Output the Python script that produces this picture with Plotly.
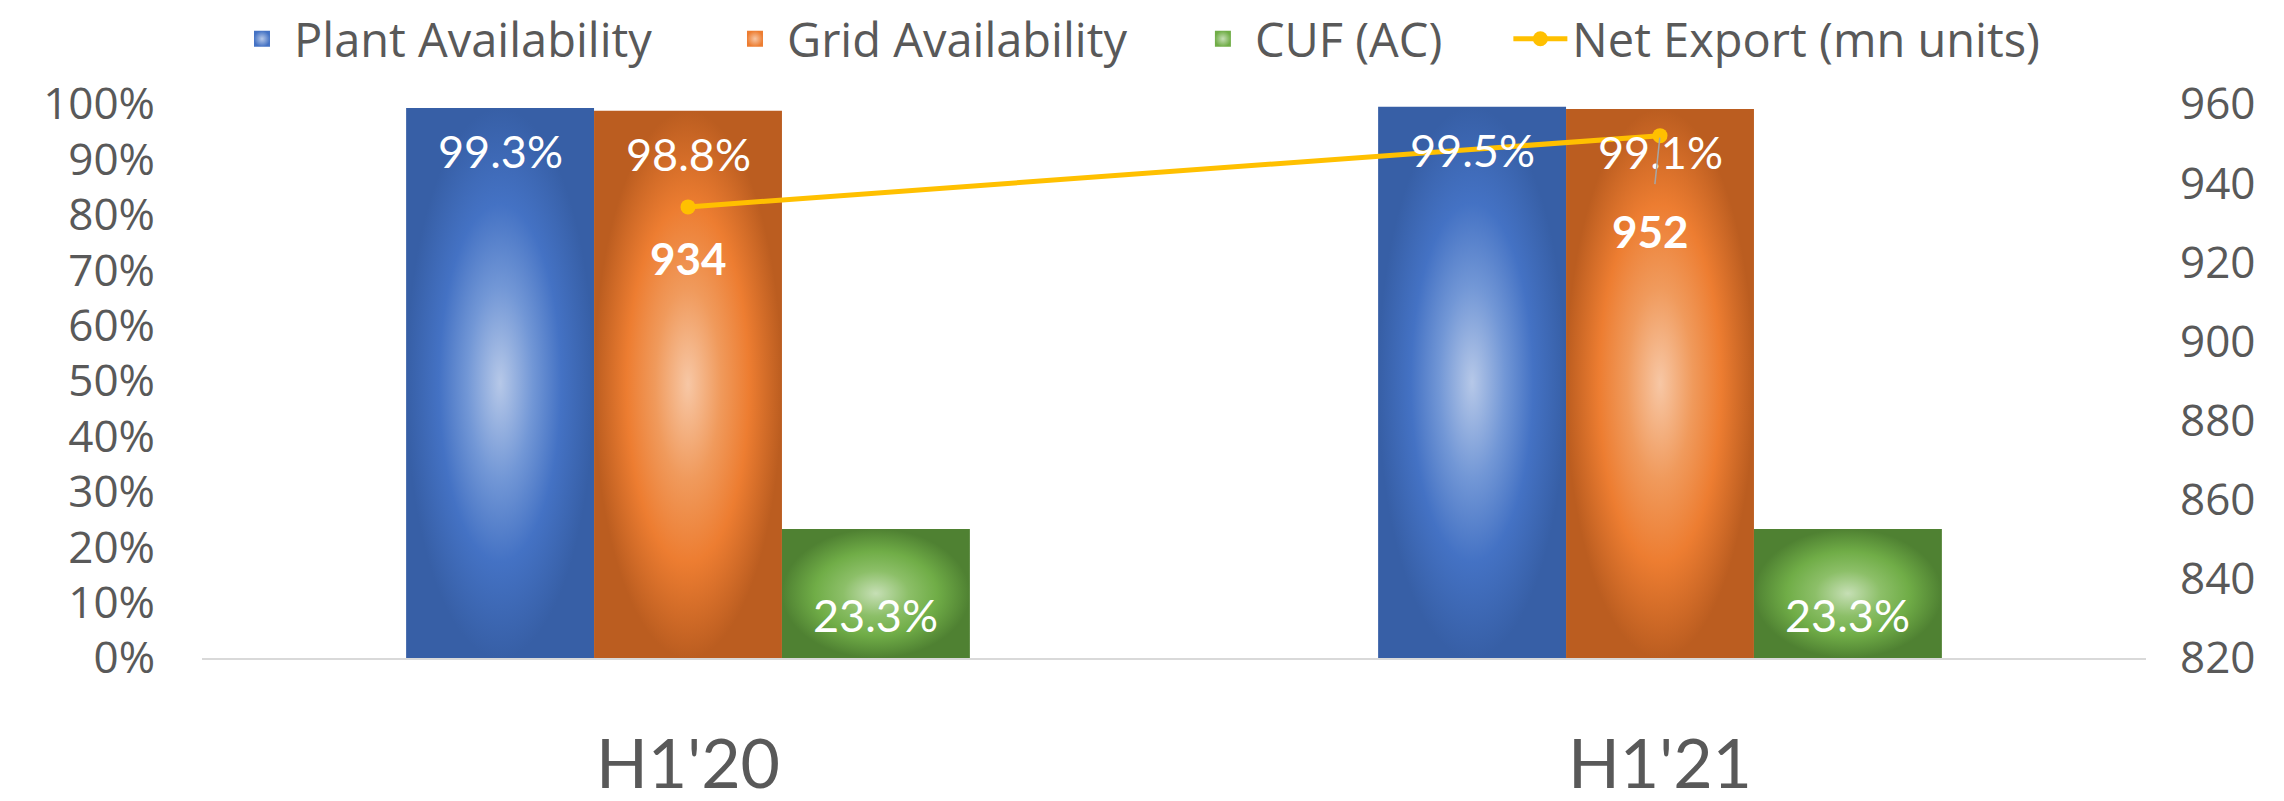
import plotly.graph_objects as go

# ---- data -------------------------------------------------------------
categories = ["H1'20", "H1'21"]
plant_availability = [0.993, 0.995]
grid_availability = [0.988, 0.991]
cuf_ac = [0.233, 0.233]
net_export = [934, 952]  # mn units

# ---- styling ----------------------------------------------------------
GREY = "#595959"
TICK_FONT = dict(family="Open Sans", size=44, color=GREY)
LEGEND_FONT = dict(family="Open Sans", size=47, color=GREY)
LABEL_FONT = dict(family="Lato", size=45, color="white")

# (name, values, radial colorscale centre->edge, label placement, legend id)
bar_series = [
    ("Plant Availability", plant_availability,
     [[0, "#b6c8e8"], [0.35, "#7297d6"], [0.65, "#4472c4"], [1, "#375fa6"]],
     "top", "legend"),
    ("Grid Availability", grid_availability,
     [[0, "#f7c7a5"], [0.35, "#f09a5c"], [0.65, "#ed7d31"], [1, "#bb5d20"]],
     "top", "legend2"),
    ("CUF (AC)", cuf_ac,
     [[0, "#c6dfb5"], [0.35, "#8cbf68"], [0.65, "#70ad47"], [1, "#4f8132"]],
     "center", "legend3"),
]

GROUP_WIDTH = 0.58
BAR_W = GROUP_WIDTH / len(bar_series)
x_pos = list(range(len(categories)))

fig = go.Figure()
annotations = []

for k, (name, values, cscale, placement, legend_id) in enumerate(bar_series):
    offset = (k - (len(bar_series) - 1) / 2) * BAR_W
    # legend entry
    fig.add_trace(go.Scatter(
        x=[None], y=[None], mode="markers", name=name, legendgroup=name,
        legend=legend_id,
        marker=dict(symbol="square", size=16, color=cscale[2][1],
                    gradient=dict(type="radial", color=cscale[0][1])),
        hoverinfo="skip",
    ))
    for xi, v in zip(x_pos, values):
        x0, x1 = xi + offset - BAR_W / 2, xi + offset + BAR_W / 2
        fig.add_trace(go.Scatter(
            x=[x0, x1, x1, x0, x0], y=[0, 0, v, v, 0],
            fill="toself", mode="lines", line=dict(width=0),
            fillgradient=dict(type="radial", colorscale=cscale),
            legendgroup=name, showlegend=False, hoverinfo="skip",
        ))
        if placement == "top":
            annotations.append(dict(
                x=xi + offset, y=v, xref="x", yref="y", yshift=-43,
                text=f"{v * 100:.1f}%", showarrow=False, font=LABEL_FONT,
            ))
        else:
            annotations.append(dict(
                x=xi + offset, y=v / 2, xref="x", yref="y", yshift=-22,
                text=f"{v * 100:.1f}%", showarrow=False, font=LABEL_FONT,
            ))

# net export line on the secondary axis
fig.add_trace(go.Scatter(
    x=x_pos, y=net_export, yaxis="y2", mode="lines+markers",
    name="Net Export (mn units)", legend="legend4",
    line=dict(color="#ffc000", width=5),
    marker=dict(size=15, color="#ffc000"),
    hoverinfo="skip",
))

# value labels for the line: first sits just below its point, second uses a leader line
line_label_style = [
    dict(showarrow=False, yshift=-51),
    dict(showarrow=True, ax=-10, ay=95, arrowhead=0, arrowwidth=1.5,
         arrowcolor="#a6a6a6", borderpad=20, standoff=2),
]
for xi, v, style in zip(x_pos, net_export, line_label_style):
    annotations.append(dict(
        x=xi, y=v, xref="x", yref="y2", text=f"<b>{v}</b>",
        font=dict(family="Lato", size=44, color="white"), **style,
    ))

legend_common = dict(
    orientation="h", xanchor="left", yref="container", y=0.951,
    yanchor="middle", font=LEGEND_FONT, itemwidth=54,
    bgcolor="rgba(0,0,0,0)",
)
legend_x = [0.0144, 0.268, 0.5087, 0.672]

fig.update_layout(
    width=2284, height=801,
    margin=dict(l=202, r=138, t=104, b=143, autoexpand=False),
    paper_bgcolor="white", plot_bgcolor="white",
    showlegend=True,
    legend=dict(x=legend_x[0], **legend_common),
    legend2=dict(x=legend_x[1], **legend_common),
    legend3=dict(x=legend_x[2], **legend_common),
    legend4=dict(x=legend_x[3], **legend_common),
    xaxis=dict(
        range=[-0.5, len(categories) - 0.5],
        tickvals=x_pos, ticktext=categories,
        tickfont=dict(family="Lato", size=68, color=GREY),
        showline=True, linecolor="#d9d9d9", linewidth=2,
        showgrid=False, zeroline=False, ticks="", ticklabelstandoff=46,
    ),
    yaxis=dict(
        range=[0, 1], dtick=0.1, tickformat=".0%",
        tickfont=TICK_FONT, showgrid=False, zeroline=False,
        showline=False, ticks="", ticklabelstandoff=46,
    ),
    yaxis2=dict(
        range=[820, 960], dtick=20, overlaying="y", side="right",
        tickfont=TICK_FONT, showgrid=False, zeroline=False,
        showline=False, ticks="", ticklabelstandoff=33,
    ),
    annotations=annotations,
)

fig.write_html("out.html")
